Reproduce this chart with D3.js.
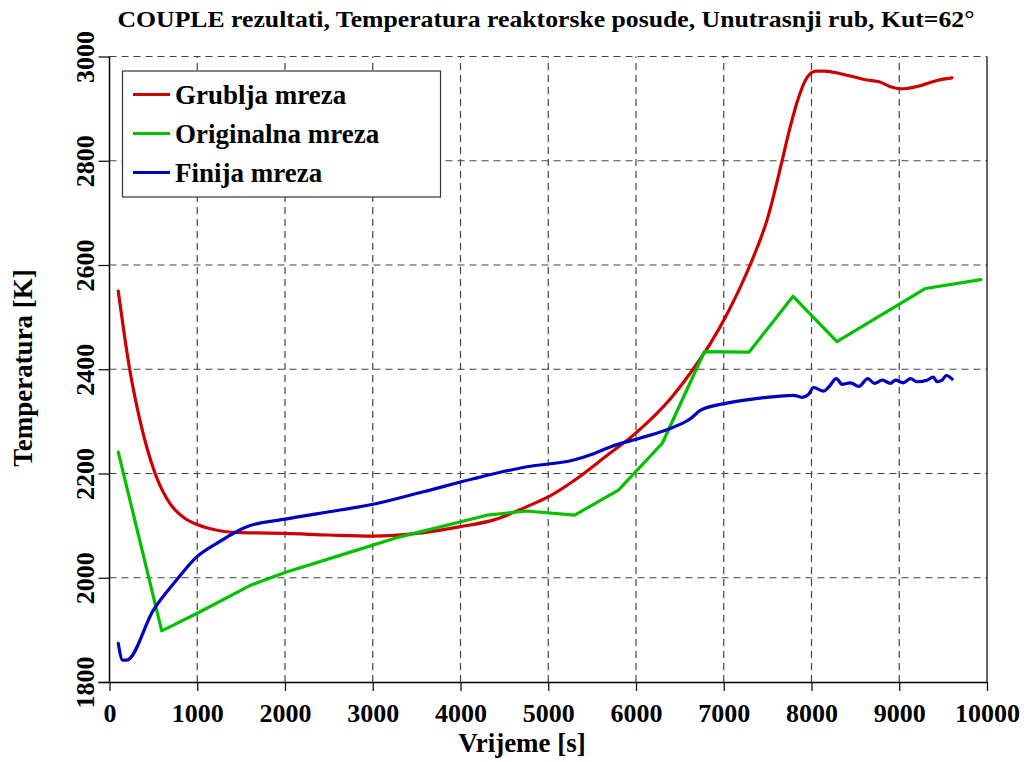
<!DOCTYPE html>
<html><head><meta charset="utf-8">
<script src="https://cdn.jsdelivr.net/npm/d3@7"></script>
<style>body{margin:0;background:#fff;} svg{display:block;}</style>
</head><body>
<svg id="c" width="1024" height="762"></svg>
<script>
const xTicks = [0,1000,2000,3000,4000,5000,6000,7000,8000,9000,10000];
const yTicks = [1800,2000,2200,2400,2600,2800,3000];
const seriesNames = ["Grublja mreza","Originalna mreza","Finija mreza"];
const seriesColors = ["#cc0000","#00c000","#0000c0"];

const grubljaT = [100,230,350,520,690,850,1000,1200,1400,1700,2000,2500,3000,3500,4000,4400,4750,5000,5300,5650,6000,6400,6650,6850,7050,7300,7500,7665,7750,7850,7950,8050,8150,8330,8630,8780,8900,9020,9240,9430,9600];
const grubljaV = [2550,2400,2300,2200,2142,2115,2102,2092,2087,2086,2085,2082,2080,2085,2098,2112,2136,2155,2187,2232,2278,2345,2400,2450,2510,2600,2690,2800,2860,2920,2960,2972,2972,2967,2955,2951,2942,2938,2944,2954,2959];

const originalT = [100,595,1000,1600,2000,2800,3300,4300,4750,5300,5800,6300,6780,7290,7790,8290,9300,9930];
const originalV = [2241,1898,1932,1985,2010,2052,2078,2120,2128,2120,2168,2258,2434,2433,2540,2453,2555,2572];

const finijaT = [100,150,196,500,766,994,1222,1564,1982,2628,3008,3578,4148,4757,5289,5517,5707,6049,6429,6619,6733,6999,7380,7797,7893,7968,8025,8139,8197,8284,8349,8444,8539,8642,8717,8805,8900,8957,9044,9128,9204,9318,9386,9432,9489,9535,9603];
const finijaV = [1874,1842,1842,1938,1996,2040,2066,2098,2112,2130,2141,2165,2190,2213,2226,2238,2251,2268,2289,2305,2321,2334,2344,2350,2346,2352,2365,2358,2366,2382,2371,2374,2367,2382,2373,2379,2373,2379,2374,2382,2376,2379,2385,2376,2379,2388,2381];

const svg = d3.select("#c");
const L = 109.5, R = 987, T = 56.5, B = 682;
const x = d3.scaleLinear().domain([0,10000]).range([L,R]);
const y = d3.scaleLinear().domain([1800,3000]).range([B,T]);
const font = '"Liberation Serif"';

// grid
const grid = svg.append("g").attr("stroke","#444").attr("stroke-width",1.2).attr("stroke-dasharray","7,5");
xTicks.slice(1,-1).forEach(v=>grid.append("line").attr("x1",x(v)).attr("x2",x(v)).attr("y1",B).attr("y2",T));
yTicks.slice(1).forEach(v=>grid.append("line").attr("y1",y(v)).attr("y2",y(v)).attr("x1",L).attr("x2",R));

// axes
const xAxis = d3.axisBottom(x).tickValues(xTicks).tickSize(9).tickPadding(6).tickFormat(d3.format("d"));
const gx = svg.append("g").attr("transform",`translate(0,${B})`).call(xAxis).attr("font-family",null);
gx.select(".domain").attr("stroke","#000").attr("stroke-width",1.5).attr("d",`M${L-11},0.5H${R}`);
gx.selectAll(".tick line").attr("stroke","#000").attr("stroke-width",1.2);
gx.selectAll("text").style("font-family",font).style("font-weight","bold").style("font-size","26px").attr("fill","#000").attr("dy","0.95em");

const yAxis = d3.axisLeft(y).tickValues(yTicks).tickSize(11).tickPadding(0).tickFormat(d3.format("d"));
const gy = svg.append("g").attr("transform",`translate(${L},0)`).call(yAxis).attr("font-family",null);
gy.select(".domain").attr("stroke","#000").attr("stroke-width",1.5).attr("d",`M0,${B}V${T}`);
gy.selectAll(".tick line").attr("stroke","#000").attr("stroke-width",1.2);
gy.selectAll("text").style("font-family",font).style("font-weight","bold").style("font-size","26px").attr("fill","#000")
  .attr("x",null).attr("dy",null).attr("text-anchor","middle").attr("transform","translate(-16,0) rotate(-90)");

// right border
svg.append("line").attr("x1",R).attr("x2",R).attr("y1",T).attr("y2",B).attr("stroke","#000").attr("stroke-width",1.2);

// lines
const smooth = d3.line().x(d=>x(d[0])).y(d=>y(d[1])).curve(d3.curveMonotoneX);
const straight = d3.line().x(d=>x(d[0])).y(d=>y(d[1]));
const data = [
  d3.zip(grubljaT,grubljaV),
  d3.zip(originalT,originalV),
  d3.zip(finijaT,finijaV)
];
const gens = [smooth, straight, smooth];
[0,1,2].forEach(i=>{
  svg.append("path").datum(data[i]).attr("d",gens[i]).attr("fill","none")
    .attr("stroke",seriesColors[i]).attr("stroke-width",3.2).attr("stroke-linejoin","round").attr("stroke-linecap","round");
});

// legend
const lg = svg.append("g");
lg.append("rect").attr("x",122.5).attr("y",71).attr("width",318).attr("height",126).attr("fill","#fff").attr("stroke","#333").attr("stroke-width",1.2);
const ly = [94.5,133.5,172.5];
seriesNames.forEach((n,i)=>{
  lg.append("line").attr("x1",133).attr("x2",170).attr("y1",ly[i]).attr("y2",ly[i]).attr("stroke",seriesColors[i]).attr("stroke-width",3.2);
  lg.append("text").attr("x",175).attr("y",ly[i]+9).text(n).style("font-family",font).style("font-weight","bold").style("font-size","27px").attr("fill","#000");
});

// titles
svg.append("text").attr("x",546).attr("y",27).attr("text-anchor","middle").style("font-family",font).style("font-weight","bold")
  .style("font-size","23px").attr("textLength",857).attr("lengthAdjust","spacingAndGlyphs")
  .text("COUPLE rezultati, Temperatura reaktorske posude, Unutrasnji rub, Kut=62°");
svg.append("text").attr("x",522).attr("y",752).attr("text-anchor","middle").style("font-family",font).style("font-weight","bold")
  .style("font-size","27px").text("Vrijeme [s]");
svg.append("text").attr("transform","translate(32,368) rotate(-90)").attr("text-anchor","middle").style("font-family",font).style("font-weight","bold")
  .style("font-size","27px").text("Temperatura [K]");
</script>
</body></html>
